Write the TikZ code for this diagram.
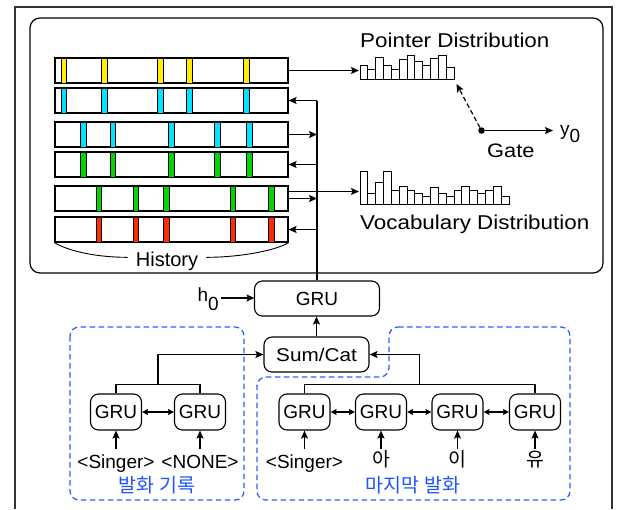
\documentclass[tikz,border=0pt]{standalone}
\usepackage{fontspec}
\setmainfont{Liberation Sans}
\newfontfamily\widesans[FakeStretch=1.12]{Liberation Sans}
\newfontfamily\krfont{Noto Sans CJK KR}
\usetikzlibrary{arrows.meta,calc}

\definecolor{groupblue}{RGB}{45,95,255}
\definecolor{labelblue}{RGB}{30,85,255}
\definecolor{hlyellow}{RGB}{255,238,0}
\definecolor{hlcyan}{RGB}{0,228,255}
\definecolor{hlgreen}{RGB}{0,215,0}
\definecolor{hlred}{RGB}{255,45,0}
\definecolor{inkblack}{RGB}{10,10,10}

\newcommand\lblfont{\widesans\fontsize{20}{20}\selectfont}
\newcommand\txtfont{\fontsize{19}{19}\selectfont}
\newcommand\krsmall{\krfont\fontsize{19.5}{19.5}\selectfont}

\tikzset{
  line/.style={draw=black, line width=1.2pt},
  arr/.style={line, -{Stealth[length=8pt,width=7pt,inset=1.5pt]}},
  biarr/.style={line, {Stealth[length=6pt,width=6pt,inset=1pt]}-{Stealth[length=6pt,width=6pt,inset=1pt]}},
  gru/.style={draw, line width=1.1pt, rounded corners=8pt, minimum width=51pt,
    minimum height=36pt, inner sep=0pt, font=\txtfont},
  histrow/.style={draw, line width=1.2pt, fill=white, minimum width=233pt,
    minimum height=25pt, inner sep=0pt},
  stripe/.style={draw=black, line width=0.5pt},
  histbar/.style={draw=black, line width=0.9pt, fill=white},
  grouping/.style={draw=groupblue, line width=1.3pt, dash pattern=on 5.5pt off 3.5pt,
    rounded corners=9pt},
  word/.style={inner sep=0pt, anchor=base, font=\txtfont},
  kword/.style={inner sep=0pt, anchor=base, font=\krsmall},
}

\begin{document}
\begin{tikzpicture}[x=1pt, y=-1pt]
\useasboundingbox (0,0) rectangle (623,509);

% outer frame and the decoder panel
\draw[line width=1.5pt, draw=black!80] (15,509) -- (15,7) -- (612,7) -- (612,509);
\draw[line width=1.2pt, rounded corners=10pt] (30,18) rectangle (603,273);

% history rows
\node[histrow] (h1) at (171.5,70.5) {};
\node[histrow] (h2) at (171.5,100.5) {};
\node[histrow] (h3) at (171.5,134.5) {};
\node[histrow] (h4) at (171.5,164.5) {};
\node[histrow] (h5) at (171.5,198.5) {};
\node[histrow] (h6) at (171.5,229.5) {};

\foreach \sx in {61,101.7,157.7,186.7,243.7} {
  \draw[stripe, fill=hlyellow] (\sx,58) rectangle ++(5.5,25);
  \draw[stripe, fill=hlcyan] (\sx,88) rectangle ++(5.5,25);
}
\foreach \sx in {80.7,110,168.3,214.3,246.7} {
  \draw[stripe, fill=hlcyan] (\sx,122) rectangle ++(5.5,25);
  \draw[stripe, fill=hlgreen] (\sx,152) rectangle ++(5.5,25);
}
\foreach \sx in {96,133,163.3,230,268.3} {
  \draw[stripe, fill=hlgreen] (\sx,186) rectangle ++(5.5,25);
  \draw[stripe, fill=hlred] (\sx,217) rectangle ++(5.5,25);
}

\node[inner sep=0pt, anchor=base, font=\fontsize{20}{20}\selectfont] (histlbl) at (167,266.5) {History};
\draw[line width=0.9pt] (h6.south west) .. controls +(15,9) and +(-30,0) .. ([shift={(-8pt,4pt)}]histlbl.west);
\draw[line width=0.9pt] ([shift={(8pt,4pt)}]histlbl.east) .. controls +(30,0) and +(-15,9) .. (h6.south east);

% pointer distribution
\node[inner sep=0pt, anchor=base west, font=\lblfont] (ptrlbl) at (360,47) {Pointer Distribution};
\foreach \bh [count=\i from 0] in {14.3,10,22,14.3,10,19.7,24.3,18.3,13.7,21,24.3,12}
  \draw[histbar] ({360+\i*7.83},79.3) rectangle ++(7.83,-\bh);
\coordinate (ptrin) at (359,70.5);
\coordinate (ptrcorner) at (456.5,84);

% vocabulary distribution
\node[inner sep=0pt, anchor=base west, font=\lblfont] (voclbl) at (360,229.5) {Vocabulary Distribution};
\foreach \bh [count=\i from 0] in {32.6,11,21.6,32.6,14.3,17.6,14.3,11,8.3,16.6,11,8.3,14.3,17.6,14.3,11,14.3,17.6,8.3}
  \draw[histbar] ({360+\i*7.84},204.3) rectangle ++(7.84,-\bh);
\coordinate (vocin) at (359,191.5);

% gate
\node[circle, fill=black, inner sep=0pt, minimum size=6.5pt] (gate) at (481.5,130.5) {};
\node[inner sep=0pt, anchor=base west, font=\widesans\fontsize{19.5}{19.5}\selectfont] (gatelbl) at (487,157) {Gate};
\node[inner sep=0pt, anchor=base west, font=\txtfont] (yout) at (560,135.5) {y\raisebox{-7pt}{0}};
\coordinate (gateend) at (553,130.5);
\draw[arr] (gate) -- (gateend);
\draw[arr, dash pattern=on 4.5pt off 3pt] (gate) -- (ptrcorner);

% encoder GRU and combination
\node[gru, minimum width=125pt, minimum height=35pt] (dec) at (317,298.5) {GRU};
\node[gru, minimum width=105pt, minimum height=35pt, font=\widesans\fontsize{18.5}{18.5}\selectfont] (sc) at (316.5,354.5) {Sum/Cat};
\node[inner sep=0pt, anchor=base east, font=\txtfont] (hzero) at (219,301.5) {h\raisebox{-9pt}{0}};
\coordinate (hzeroout) at (221,298);
\coordinate (decin) at (254.5,298);

% connectors of the decoder panel
\draw[line] (dec.north) -- (dec.north |- h2.east);
\draw[arr] (h1.east) -- (ptrin);
\draw[arr] (h2.east -| dec.north) -- (h2.east);
\draw[arr] (h3.east) -- (h3.east -| dec.north);
\draw[arr] (h4.east -| dec.north) -- (h4.east);
\draw[arr] (h5.east |- vocin) -- (vocin);
\draw[arr] (h5.east) -- (h5.east -| dec.north);
\draw[arr] (h6.east -| dec.north) -- (h6.east);

\draw[arr, draw=inkblack, line width=1.4pt] (hzeroout) -- (decin);
\draw[arr] (sc.north) -- (sc.north |- dec.south);

% utterance groups
\draw[grouping] (70,327) rectangle (244,500);
\draw[grouping] (389,327) -- (570,327) -- (570,500) -- (257,500) -- (257,377) -- (389,377) -- cycle;

% history utterance encoder
\node[gru] (l1) at (116,412) {GRU};
\node[gru] (l2) at (200,412) {GRU};
\draw[biarr] (l1) -- (l2);
\draw[line] (l1.north) -- ++(0,-9) -| (l2.north);
\coordinate (lj) at ($(l1.north)!0.5!(l2.north)+(0,-9)$);
\draw[arr] (lj) |- (sc.west);
\node[word] (li1) at (l1 |- 0,468) {<Singer>};
\node[word] (li2) at (l2 |- 0,468) {<NONE>};
\foreach \g in {l1,l2}
  \draw[arr] ([yshift=-18pt]\g.south) -- (\g.south);
\node[kword, text=labelblue] (lgrp) at (157,492) {발화 기록};

% last utterance encoder
\node[gru] (r1) at (304.5,412) {GRU};
\node[gru] (r2) at (381,412) {GRU};
\node[gru] (r3) at (457.5,412) {GRU};
\node[gru] (r4) at (535,412) {GRU};
\draw[biarr] (r1) -- (r2);
\draw[biarr] (r2) -- (r3);
\draw[biarr] (r3) -- (r4);
\draw[line] (r1.north) -- ++(0,-9) -| (r4.north);
\coordinate (rj) at ($(r1.north)!0.5!(r4.north)+(0,-9)$);
\draw[arr] (rj) |- (sc.east);
\node[word] (ri1) at (r1 |- 0,468) {<Singer>};
\node[kword] (ri2) at (r2 |- 0,466) {아};
\node[kword] (ri3) at (r3 |- 0,466) {이};
\node[kword] (ri4) at (r4 |- 0,466) {유};
\foreach \g in {r1,r2,r3,r4}
  \draw[arr] ([yshift=-18pt]\g.south) -- (\g.south);
\node[kword, text=labelblue] (rgrp) at (413,492) {마지막 발화};

\end{tikzpicture}
\end{document}
